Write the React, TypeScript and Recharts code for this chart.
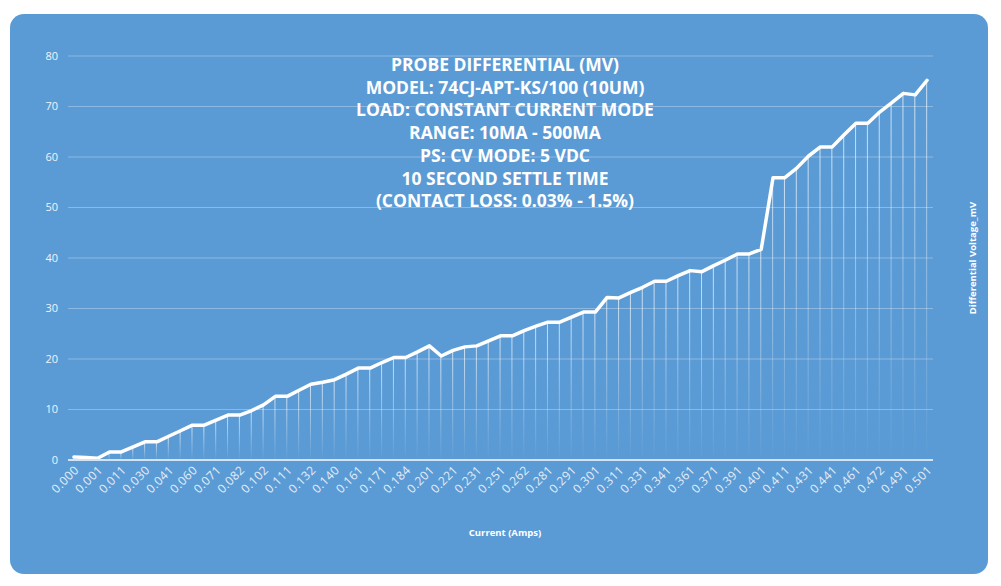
import React from 'react';
import { ComposedChart, Line, Bar, XAxis, YAxis, CartesianGrid } from 'recharts';

const currentLabels = [
  '0.000', '0.001', '0.001', '0.011', '0.011', '0.020', '0.030', '0.030', '0.041', '0.050',
  '0.060', '0.060', '0.071', '0.081', '0.082', '0.091', '0.102', '0.111', '0.111', '0.121',
  '0.132', '0.132', '0.140', '0.151', '0.161', '0.161', '0.171', '0.181', '0.184', '0.191',
  '0.201', '0.211', '0.221', '0.221', '0.231', '0.241', '0.251', '0.251', '0.262', '0.271',
  '0.281', '0.281', '0.291', '0.301', '0.301', '0.311', '0.311', '0.321', '0.331', '0.341',
  '0.341', '0.351', '0.361', '0.361', '0.371', '0.381', '0.391', '0.391', '0.401', '0.411',
  '0.411', '0.421', '0.431', '0.431', '0.441', '0.451', '0.461', '0.461', '0.472', '0.481',
  '0.491', '0.491', '0.501',
];

const voltageValues = [
  0.6, 0.5, 0.35, 1.6, 1.6, 2.6, 3.6, 3.6, 4.7, 5.8,
  6.9, 6.9, 7.9, 8.9, 8.9, 9.8, 10.9, 12.6, 12.6, 13.8,
  15.0, 15.4, 15.9, 17.0, 18.2, 18.2, 19.3, 20.3, 20.3, 21.4,
  22.6, 20.6, 21.7, 22.4, 22.6, 23.6, 24.6, 24.6, 25.6, 26.5,
  27.3, 27.3, 28.3, 29.3, 29.3, 32.2, 32.1, 33.2, 34.2, 35.4,
  35.4, 36.5, 37.5, 37.3, 38.5, 39.6, 40.8, 40.8, 41.7, 55.9,
  55.9, 57.8, 60.2, 62.0, 62.0, 64.4, 66.7, 66.7, 68.9, 70.7,
  72.6, 72.3, 75.2,
];

const yTicks = [0, 10, 20, 30, 40, 50, 60, 70, 80];

const titleLines = [
  'PROBE DIFFERENTIAL (MV)',
  'MODEL: 74CJ-APT-KS/100 (10UM)',
  'LOAD: CONSTANT CURRENT MODE',
  'RANGE: 10MA - 500MA',
  'PS: CV MODE: 5 VDC',
  '10 SECOND SETTLE TIME',
  '(CONTACT LOSS: 0.03% - 1.5%)',
];

const data = currentLabels.map((label, i) => ({ label, v: voltageValues[i] }));

const FONT = '"Open Sans", "Liberation Sans", sans-serif';

const XTick = (props: any) => {
  const { x, y, payload } = props;
  return (
    <g transform={`translate(${x},${y})`}>
      <text
        x={0}
        y={0}
        dy={6}
        dx={2}
        transform="rotate(-45)"
        textAnchor="end"
        fill="#e4edf7"
        fontSize={12}
        letterSpacing={0.4}
        fontFamily={FONT}
      >
        {payload.value}
      </text>
    </g>
  );
};

export default function App() {
  return (
    <div style={{ position: 'relative', width: 985, height: 570 }}>
      <div
        style={{
          position: 'absolute',
          left: 2,
          top: 6,
          width: 978,
          height: 560,
          borderRadius: 14,
          background: '#5b9bd5',
          overflow: 'hidden',
        }}
      >
        <ComposedChart
          width={978}
          height={560}
          data={data}
          margin={{ top: 42, right: 55, bottom: 54, left: 18 }}
        >
          <defs>
            <linearGradient id="dropGrad" x1="0" y1="0" x2="0" y2="1">
              <stop offset="0%" stopColor="#ffffff" stopOpacity={0.7} />
              <stop offset="100%" stopColor="#ffffff" stopOpacity={0} />
            </linearGradient>
          </defs>
          <CartesianGrid vertical={false} stroke="#ffffff" strokeOpacity={0.3} strokeWidth={1} />
          <XAxis
            dataKey="label"
            interval={1}
            tick={<XTick />}
            tickLine={false}
            axisLine={{ stroke: '#d4e3f3', strokeWidth: 2 }}
            height={60}
          />
          <YAxis
            domain={[0, 80]}
            ticks={yTicks}
            width={40}
            tickLine={false}
            axisLine={false}
            tick={{ fill: '#eef4fb', fontSize: 11, fontFamily: FONT }}
            tickMargin={4}
          />
          <Bar dataKey="v" barSize={1} fill="url(#dropGrad)" isAnimationActive={false} />
          <Line
            type="linear"
            dataKey="v"
            stroke="#ffffff"
            strokeWidth={3.5}
            strokeLinejoin="round"
            strokeLinecap="round"
            dot={false}
            activeDot={false}
            isAnimationActive={false}
          />
        </ComposedChart>
        <div
          style={{
            position: 'absolute',
            left: 245,
            top: 39,
            width: 500,
            textAlign: 'center',
            color: '#ffffff',
            fontFamily: FONT,
            fontWeight: 700,
            fontSize: 17.5,
            lineHeight: '22.7px',
          }}
        >
          {titleLines.map((t, i) => (
            <div key={i}>{t}</div>
          ))}
        </div>
        <div
          style={{
            position: 'absolute',
            left: 395,
            top: 512,
            width: 200,
            textAlign: 'center',
            color: '#ffffff',
            fontFamily: FONT,
            fontWeight: 700,
            fontSize: 9.5,
          }}
        >
          Current (Amps)
        </div>
        <div
          style={{
            position: 'absolute',
            left: 963 - 100,
            top: 244 - 7,
            width: 200,
            textAlign: 'center',
            color: '#ffffff',
            fontFamily: FONT,
            fontWeight: 700,
            fontSize: 9.5,
            transform: 'rotate(-90deg)',
            transformOrigin: '100px 7px',
          }}
        >
          Differential Voltage_mV
        </div>
      </div>
    </div>
  );
}
